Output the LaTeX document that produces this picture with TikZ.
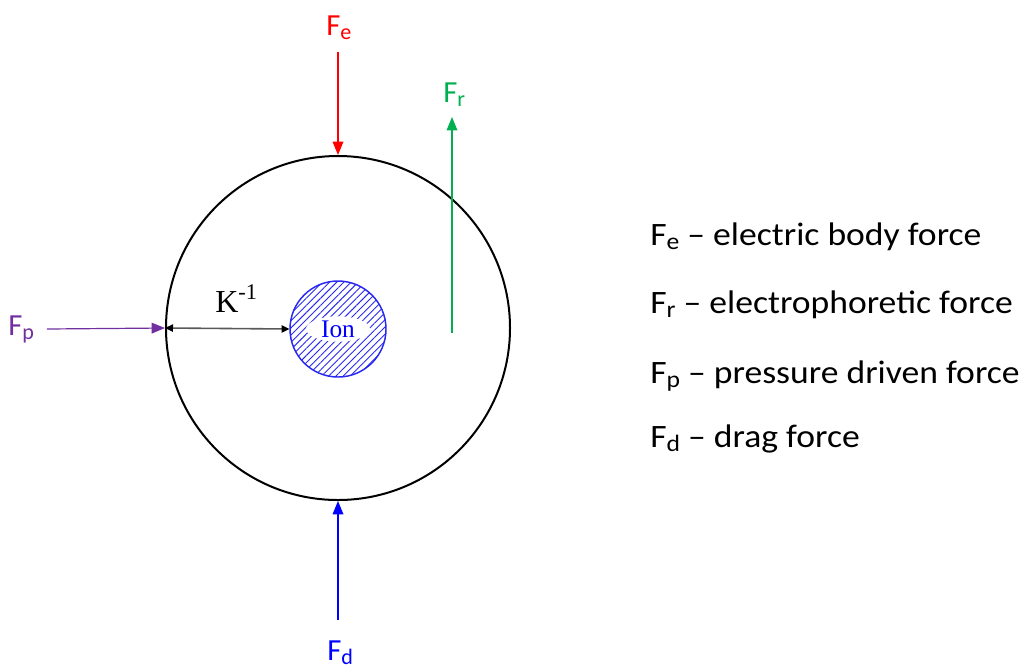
\documentclass[tikz,border=0pt]{standalone}
\usepackage{fontspec}
\setmainfont{Carlito}
\newfontfamily\serifx{Liberation Serif}
\usetikzlibrary{arrows.meta,patterns.meta,shapes.geometric}
\definecolor{fred}{RGB}{255,0,0}
\definecolor{fgreen}{RGB}{0,176,80}
\definecolor{fpurple}{RGB}{112,48,160}
\definecolor{fblue}{RGB}{0,0,255}
\definecolor{ionblue}{RGB}{40,40,240}
\newcommand\lsub[1]{\raisebox{-0.15em}{\scalebox{0.72}{#1}}}
\newcommand\legtext[1]{\scalebox{1.09}[1]{#1}}
\tikzset{
  lbl/.style={font=\fontsize{23}{28}\selectfont, inner sep=0pt, anchor=base west},
  leg/.style={font=\fontsize{24.5}{30}\selectfont, inner sep=0pt, anchor=base west},
  force/.style={line width=0.9pt, -{Triangle[length=10pt,width=8pt]}},
}
\begin{document}
\begin{tikzpicture}[x=0.75pt,y=-0.75pt]
\useasboundingbox (0,0) rectangle (1020,669);
% circles
\node[draw, circle, line width=1.5pt, minimum size=258pt, inner sep=0pt] (outer) at (338,328) {};
\node[draw=ionblue, circle, line width=1.1pt, minimum size=72pt, inner sep=0pt,
      pattern={Lines[angle=45,distance=3.8pt,line width=0.7pt]}, pattern color=ionblue] (ion) at (338,329) {};
\node[ellipse, fill=white, inner sep=0pt, minimum width=48pt, minimum height=19pt,
      font=\serifx\fontsize{19}{22}\selectfont, text=fblue] (iontext) at (ion.center) {Ion};
% K^-1
\draw[line width=1.2pt, black!65, {Triangle[length=6pt,width=5.5pt,color=black]}-{Triangle[length=6pt,width=5.5pt,color=black]}] (outer.west) -- (ion.west);
\node[lbl, font=\serifx\fontsize{24}{28}\selectfont] (K) at (215,312) {K\textsuperscript{-1}};
% force labels
\node[lbl, text=fred] (Fe) at (326,35) {F\lsub{e}};
\node[lbl, text=fgreen] (Fr) at (443,102) {F\lsub{r}};
\node[lbl, text=fpurple] (Fp) at (8,335) {F\lsub{p}};
\node[lbl, text=fblue] (Fd) at (327,660) {F\lsub{d}};
% force arrows
\coordinate (feT) at (338,52);
\draw[force, fred] (feT) -- (outer.north);
\coordinate (frB) at (452,333);
\coordinate (frT) at (452,117);
\draw[force, fgreen] (frB) -- (frT);
\coordinate (fpL) at (47,329);
\draw[force, fpurple] (fpL) -- (outer.west);
\coordinate (fdB) at (338,620);
\draw[force, fblue] (fdB) -- (outer.south);
% legend
\node[leg] (L1) at (650,245) {\legtext{F\lsub{e} -- electric body force}};
\node[leg] (L2) at (650,313) {\legtext{F\lsub{r} -- electrophoretic force}};
\node[leg] (L3) at (650,383) {\legtext{F\lsub{p} -- pressure driven force}};
\node[leg] (L4) at (650,447) {\legtext{F\lsub{d} -- drag force}};
\end{tikzpicture}
\end{document}
